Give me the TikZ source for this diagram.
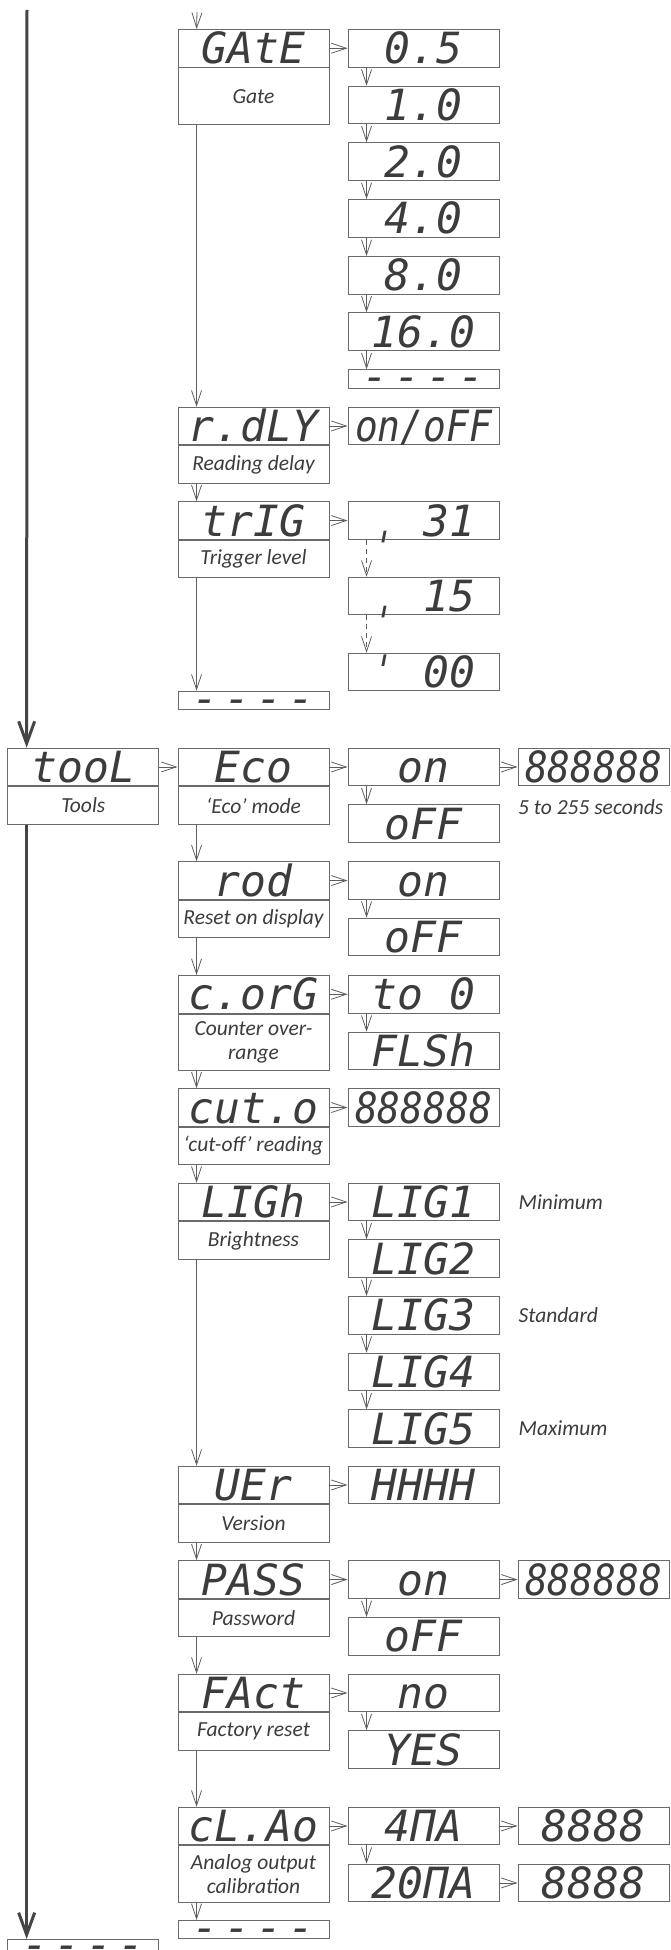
\documentclass[tikz,border=0pt]{standalone}
\usepackage{fontspec}
\usepackage{graphicx}
\setmainfont{Carlito}
\newfontfamily\segfont{DejaVu Sans Mono}
\usetikzlibrary{arrows.meta}
\definecolor{boxc}{HTML}{6A6A6A}
\definecolor{txtc}{HTML}{3C3C3C}
\definecolor{linec}{HTML}{5E5E5E}
\definecolor{mainc}{HTML}{454545}
\tikzset{
 disp/.style={draw=boxc, line width=0.9pt, minimum width=151pt, minimum height=37.6pt, inner sep=0pt, anchor=north, text=txtc, font=\segfont\itshape\fontsize{43}{43}\selectfont, text height=31.3pt, text depth=0pt},
 lab/.style={draw=boxc, line width=0.9pt, minimum width=151pt, minimum height=37.6pt, inner sep=0pt, anchor=north, text=txtc, font=\itshape\fontsize{21.5}{24}\selectfont, align=center},
 labtall/.style={lab, minimum height=56.4pt},
 dbox/.style={draw=boxc, line width=0.9pt, minimum width=151pt, minimum height=18.4pt, inner sep=0pt, anchor=north, text=txtc, font=\segfont\itshape\fontsize{43}{43}\selectfont},
 note/.style={anchor=west, inner sep=0pt, text=txtc, font=\itshape\fontsize{21.5}{24}\selectfont},
 arr/.style={draw=linec, line width=0.8pt, -{Straight Barb[length=15pt,width=10pt]}},
 darr/.style={arr, dash pattern=on 5pt off 4pt},
 mainarr/.style={draw=mainc, line width=3pt, -{Straight Barb[length=22pt,width=16pt]}},
}
\newcommand{\dashes}[1][-13pt]{\raisebox{#1}[0pt][0pt]{-\kern6pt-\kern6pt-\kern6pt-}}
\newcommand{\sq}[1]{\scalebox{0.88}[1]{#1}}
\begin{document}
\begin{tikzpicture}[x=1pt,y=-1pt]
\fill[white] (0,0) rectangle (670,1950);
\useasboundingbox (0,0) rectangle (670,1950);
% ---------- GATE ----------
\node[disp] (gate) at (253.5,29) {GAtE};
\node[labtall] (gateL) at (gate.south) {Gate};
\node[disp] (v05) at (423.5,29) {0.5};
\node[disp] (v10) at (423.5,85.7) {1.0};
\node[disp] (v20) at (423.5,142.3) {2.0};
\node[disp] (v40) at (423.5,199) {4.0};
\node[disp] (v80) at (423.5,256) {8.0};
\node[disp] (v160) at (423.5,312.3) {16.0};
\node[dbox] (vdash) at (423.5,369.3) {\dashes};
% ---------- r.dLY ----------
\node[disp] (rdly) at (253.5,406.7) {r.dLY};
\node[lab] (rdlyL) at (rdly.south) {Reading delay};
\node[disp] (onoff) at (423.5,406.7) {\sq{on/oFF}};
% ---------- trIG ----------
\node[disp] (trig) at (253.5,501.3) {trIG};
\node[lab] (trigL) at (trig.south) {Trigger level};
\node[disp] (t31) at (423.5,501.3) {ˌ 31};
\node[disp] (t15) at (423.5,576.7) {ˌ 15};
\node[disp] (t00) at (423.5,652.7) {ˈ 00};
\node[dbox] (dashA) at (253.5,690.7) {\dashes};
% ---------- tool ----------
\node[disp] (tool) at (83.3,747.7) {tooL};
\node[lab] (toolL) at (tool.south) {Tools};
\node[disp] (eco) at (253.5,747.7) {Eco};
\node[lab] (ecoL) at (eco.south) {`Eco' mode};
\node[disp] (ecoOn) at (423.5,747.7) {on};
\node[disp] (eco888) at (593.5,747.7) {\sq{888888}};
\node[disp] (ecoOff) at (423.5,804.3) {oFF};
\node[note] (secs) at (518,806.7) {5 to 255 seconds};
% ---------- rod ----------
\node[disp] (rod) at (253.5,861.3) {rod};
\node[lab] (rodL) at (rod.south) {Reset on display};
\node[disp] (rodOn) at (423.5,861.3) {on};
\node[disp] (rodOff) at (423.5,917.7) {oFF};
% ---------- c.orG ----------
\node[disp] (corg) at (253.5,975) {c.orG};
\node[labtall] (corgL) at (corg.south) {Counter over-\\range};
\node[disp] (to0) at (423.5,975) {to 0};
\node[disp] (flsh) at (423.5,1031.7) {FLSh};
% ---------- cut.o ----------
\node[disp] (cuto) at (253.5,1088.3) {cut.o};
\node[lab] (cutoL) at (cuto.south) {`cut-off' reading};
\node[disp] (cut888) at (423.5,1088.3) {\sq{888888}};
% ---------- LIGh ----------
\node[disp] (ligh) at (253.5,1182.7) {LIGh};
\node[lab] (lighL) at (ligh.south) {Brightness};
\node[disp] (lig1) at (423.5,1182.7) {LIG1};
\node[disp] (lig2) at (423.5,1239.3) {LIG2};
\node[disp] (lig3) at (423.5,1296) {LIG3};
\node[disp] (lig4) at (423.5,1352.7) {LIG4};
\node[disp] (lig5) at (423.5,1409.3) {LIG5};
\node[note] (minN) at ([xshift=19pt]lig1.east) {Minimum};
\node[note] (stdN) at ([xshift=19pt]lig3.east) {Standard};
\node[note] (maxN) at ([xshift=19pt]lig5.east) {Maximum};
% ---------- UEr ----------
\node[disp] (uer) at (253.5,1465.7) {UEr};
\node[lab] (uerL) at (uer.south) {Version};
\node[disp] (hhhh) at (423.5,1465.7) {HHHH};
% ---------- PASS ----------
\node[disp] (pass) at (253.5,1560.3) {PASS};
\node[lab] (passL) at (pass.south) {Password};
\node[disp] (passOn) at (423.5,1560.3) {on};
\node[disp] (pass888) at (593.5,1560.3) {\sq{888888}};
\node[disp] (passOff) at (423.5,1617) {oFF};
% ---------- FAct ----------
\node[disp] (fact) at (253.5,1673.7) {FAct};
\node[lab] (factL) at (fact.south) {Factory reset};
\node[disp] (no) at (423.5,1673.7) {no};
\node[disp] (yes) at (423.5,1730.3) {YES};
% ---------- cL.Ao ----------
\node[disp] (clao) at (253.5,1806.7) {cL.Ao};
\node[labtall] (claoL) at (clao.south) {Analog output\\calibration};
\node[disp] (ma4) at (423.5,1806.7) {4ΠA};
\node[disp] (m4v) at (593.5,1806.7) {8888};
\node[disp] (ma20) at (423.5,1863.7) {20ΠA};
\node[disp] (m20v) at (593.5,1863.7) {8888};
\node[dbox] (dashB) at (253.5,1920) {\dashes};
\node[dbox] (dashC) at (83.3,1939) {\dashes[-11pt]};
% ---------- main lines ----------
\coordinate (mtop) at (27,10);
\draw[mainarr] (mtop) -- ([xshift=19.3pt]tool.north west);
\draw[mainarr] ([xshift=19.3pt]toolL.south west) -- ([xshift=19.3pt]dashC.north west);
% ---------- column 2 connectors ----------
\coordinate (gtop) at (197,12);
\draw[arr] (gtop) -- ([xshift=19pt]gate.north west);
\foreach \a/\b in {gateL/rdly, rdlyL/trig, trigL/dashA, ecoL/rod, rodL/corg, corgL/cuto, cutoL/ligh, lighL/uer, uerL/pass, passL/fact, factL/clao, claoL/dashB}
  \draw[arr] ([xshift=19pt]\a.south west) -- ([xshift=19pt]\b.north west);
% ---------- column 3 connectors ----------
\foreach \a/\b in {v05/v10, v10/v20, v20/v40, v40/v80, v80/v160, v160/vdash, ecoOn/ecoOff, rodOn/rodOff, to0/flsh, lig1/lig2, lig2/lig3, lig3/lig4, lig4/lig5, passOn/passOff, no/yes, ma4/ma20}
  \draw[arr] ([xshift=19pt]\a.south west) -- ([xshift=19pt]\b.north west);
\foreach \a/\b in {t31/t15, t15/t00}
  \draw[darr] ([xshift=19pt]\a.south west) -- ([xshift=19pt]\b.north west);
% ---------- horizontal connectors ----------
\foreach \a/\b in {gate/v05, rdly/onoff, trig/t31, tool/eco, eco/ecoOn, ecoOn/eco888, rod/rodOn, corg/to0, cuto/cut888, ligh/lig1, uer/hhhh, pass/passOn, passOn/pass888, fact/no, clao/ma4, ma4/m4v, ma20/m20v}
  \draw[arr] (\a.east) -- (\b.west);
\end{tikzpicture}
\end{document}
